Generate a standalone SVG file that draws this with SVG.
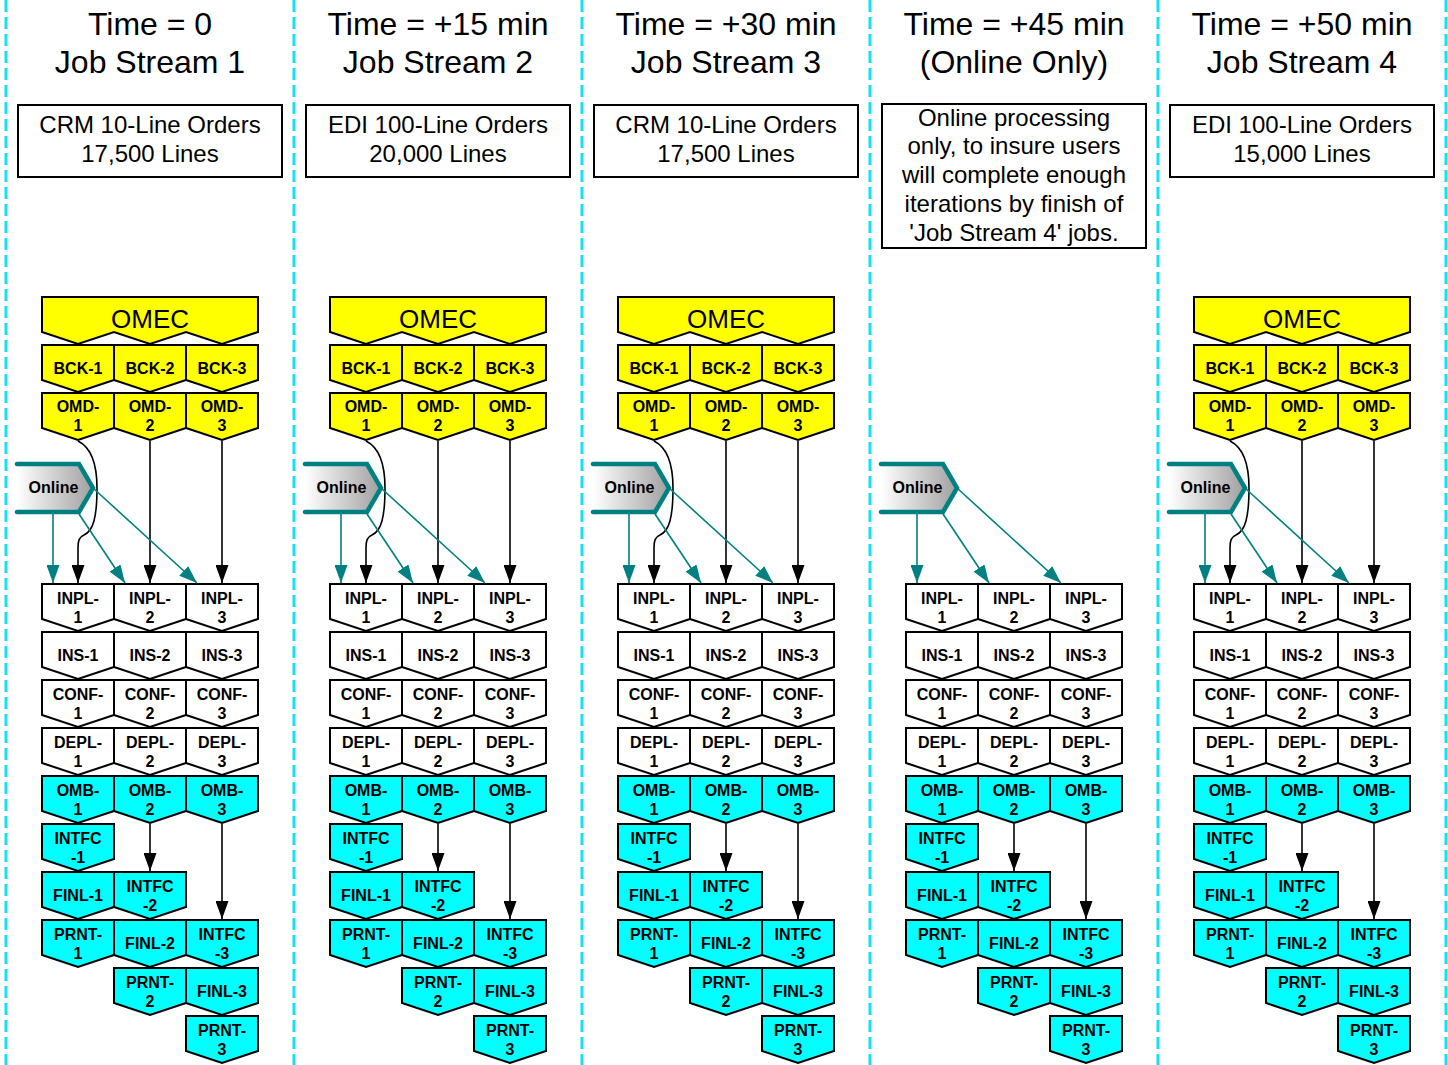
<svg xmlns="http://www.w3.org/2000/svg" width="1448" height="1065" viewBox="0 0 1448 1065">
<style>
.dash{stroke:#10E4EE;stroke-width:3;stroke-dasharray:12 5;fill:none}
.hd{font-family:"Liberation Sans",Arial,sans-serif;font-size:32px;text-anchor:middle;fill:#000}
.bx{fill:#fff;stroke:#000;stroke-width:2}
.bt{font-family:"Liberation Sans",Arial,sans-serif;font-size:24px;text-anchor:middle;fill:#000}
.y{fill:#FFFF00;stroke:#000;stroke-width:2}
.w{fill:#FFFFFF;stroke:#000;stroke-width:2}
.c{fill:#00FFFF;stroke:#000;stroke-width:2}
.lb{font-family:"Liberation Sans",Arial,sans-serif;font-weight:bold;font-size:16px;text-anchor:middle;fill:#000}
.om{font-family:"Liberation Sans",Arial,sans-serif;font-size:26px;text-anchor:middle;fill:#000}
.onl{fill:none;stroke:#008080;stroke-width:4.5;stroke-linecap:round;stroke-linejoin:miter}
.ka{stroke:#000;stroke-width:1.6;fill:none;marker-end:url(#ak)}
.ta{stroke:#008080;stroke-width:1.6;fill:none;marker-end:url(#at)}
</style>
<defs>
<path id="p" d="M0,0 H72 V35 L36,47 L0,35 Z"/>
<linearGradient id="gr" x1="0" y1="0" x2="1" y2="0">
<stop offset="0" stop-color="#FFFFFF"/>
<stop offset="1" stop-color="#A0A0A0"/>
</linearGradient>
<marker id="ak" markerUnits="userSpaceOnUse" viewBox="0 0 18 13" markerWidth="18" markerHeight="13" refX="18" refY="6.5" orient="auto"><path d="M0,0 L18,6.5 L0,13 Z" fill="#000"/></marker>
<marker id="at" markerUnits="userSpaceOnUse" viewBox="0 0 18 13" markerWidth="18" markerHeight="13" refX="18" refY="6.5" orient="auto"><path d="M0,0 L18,6.5 L0,13 Z" fill="#008080"/></marker>
</defs>
<rect width="1448" height="1065" fill="#fff"/>
<g id="dividers">
<line class="dash" x1="6" y1="0" x2="6" y2="1065"/>
<line class="dash" x1="294" y1="0" x2="294" y2="1065"/>
<line class="dash" x1="582" y1="0" x2="582" y2="1065"/>
<line class="dash" x1="870" y1="0" x2="870" y2="1065"/>
<line class="dash" x1="1158" y1="0" x2="1158" y2="1065"/>
<line class="dash" x1="1446" y1="0" x2="1446" y2="1065"/>
</g>
<g id="headers">
<g id="h1"><text class="hd" x="150" y="35">Time = 0</text><text class="hd" x="150" y="73">Job Stream 1</text></g>
<g id="h2"><text class="hd" x="438" y="35">Time = +15 min</text><text class="hd" x="438" y="73">Job Stream 2</text></g>
<g id="h3"><text class="hd" x="726" y="35">Time = +30 min</text><text class="hd" x="726" y="73">Job Stream 3</text></g>
<g id="h4"><text class="hd" x="1014" y="35">Time = +45 min</text><text class="hd" x="1014" y="73">(Online Only)</text></g>
<g id="h5"><text class="hd" x="1302" y="35">Time = +50 min</text><text class="hd" x="1302" y="73">Job Stream 4</text></g>
</g>
<g id="notes">
<g id="n1"><rect class="bx" x="18" y="105" width="264" height="72"/><text class="bt" x="150" y="133">CRM 10-Line Orders</text><text class="bt" x="150" y="162">17,500 Lines</text></g>
<g id="n2"><rect class="bx" x="306" y="105" width="264" height="72"/><text class="bt" x="438" y="133">EDI 100-Line Orders</text><text class="bt" x="438" y="162">20,000 Lines</text></g>
<g id="n3"><rect class="bx" x="594" y="105" width="264" height="72"/><text class="bt" x="726" y="133">CRM 10-Line Orders</text><text class="bt" x="726" y="162">17,500 Lines</text></g>
<g id="n4"><rect class="bx" x="882" y="104" width="264" height="144"/><text class="bt" x="1014" y="126">Online processing</text><text class="bt" x="1014" y="154">only, to insure users</text><text class="bt" x="1014" y="183">will complete enough</text><text class="bt" x="1014" y="212">iterations by finish of</text><text class="bt" x="1014" y="241">'Job Stream 4' jobs.</text></g>
<g id="n5"><rect class="bx" x="1170" y="105" width="264" height="72"/><text class="bt" x="1302" y="133">EDI 100-Line Orders</text><text class="bt" x="1302" y="162">15,000 Lines</text></g>
</g>

<g id="nodes">
<!-- Column 1 -->
<g id="col1">
<g id="s1-omec"><polygon class="y" points="42,297 258,297 258,332 222,344 186,332 150,344 114,332 78,344 42,332"/><text class="om" x="150" y="328">OMEC</text></g>
<g id="s1-bck1"><use href="#p" class="y" x="42" y="345"/><text class="lb" x="78" y="374">BCK-1</text></g>
<g id="s1-bck2"><use href="#p" class="y" x="114" y="345"/><text class="lb" x="150" y="374">BCK-2</text></g>
<g id="s1-bck3"><use href="#p" class="y" x="186" y="345"/><text class="lb" x="222" y="374">BCK-3</text></g>
<g id="s1-omd1"><use href="#p" class="y" x="42" y="393"/><text class="lb" x="78" y="412">OMD-</text><text class="lb" x="78" y="431">1</text></g>
<g id="s1-omd2"><use href="#p" class="y" x="114" y="393"/><text class="lb" x="150" y="412">OMD-</text><text class="lb" x="150" y="431">2</text></g>
<g id="s1-omd3"><use href="#p" class="y" x="186" y="393"/><text class="lb" x="222" y="412">OMD-</text><text class="lb" x="222" y="431">3</text></g>
<g id="s1-online"><polygon fill="url(#gr)" points="17,464 79,464 93,488 79,512 17,512"/><polyline class="onl" points="17,464 79,464 93,488 79,512 17,512"/><text class="lb" x="53.5" y="493">Online</text></g>
<g id="s1-inpl1"><use href="#p" class="w" x="42" y="584"/><text class="lb" x="78" y="604">INPL-</text><text class="lb" x="78" y="623">1</text></g>
<g id="s1-inpl2"><use href="#p" class="w" x="114" y="584"/><text class="lb" x="150" y="604">INPL-</text><text class="lb" x="150" y="623">2</text></g>
<g id="s1-inpl3"><use href="#p" class="w" x="186" y="584"/><text class="lb" x="222" y="604">INPL-</text><text class="lb" x="222" y="623">3</text></g>
<g id="s1-ins1"><use href="#p" class="w" x="42" y="632"/><text class="lb" x="78" y="661">INS-1</text></g>
<g id="s1-ins2"><use href="#p" class="w" x="114" y="632"/><text class="lb" x="150" y="661">INS-2</text></g>
<g id="s1-ins3"><use href="#p" class="w" x="186" y="632"/><text class="lb" x="222" y="661">INS-3</text></g>
<g id="s1-conf1"><use href="#p" class="w" x="42" y="680"/><text class="lb" x="78" y="700">CONF-</text><text class="lb" x="78" y="719">1</text></g>
<g id="s1-conf2"><use href="#p" class="w" x="114" y="680"/><text class="lb" x="150" y="700">CONF-</text><text class="lb" x="150" y="719">2</text></g>
<g id="s1-conf3"><use href="#p" class="w" x="186" y="680"/><text class="lb" x="222" y="700">CONF-</text><text class="lb" x="222" y="719">3</text></g>
<g id="s1-depl1"><use href="#p" class="w" x="42" y="728"/><text class="lb" x="78" y="748">DEPL-</text><text class="lb" x="78" y="767">1</text></g>
<g id="s1-depl2"><use href="#p" class="w" x="114" y="728"/><text class="lb" x="150" y="748">DEPL-</text><text class="lb" x="150" y="767">2</text></g>
<g id="s1-depl3"><use href="#p" class="w" x="186" y="728"/><text class="lb" x="222" y="748">DEPL-</text><text class="lb" x="222" y="767">3</text></g>
<g id="s1-omb1"><use href="#p" class="c" x="42" y="776"/><text class="lb" x="78" y="796">OMB-</text><text class="lb" x="78" y="815">1</text></g>
<g id="s1-omb2"><use href="#p" class="c" x="114" y="776"/><text class="lb" x="150" y="796">OMB-</text><text class="lb" x="150" y="815">2</text></g>
<g id="s1-omb3"><use href="#p" class="c" x="186" y="776"/><text class="lb" x="222" y="796">OMB-</text><text class="lb" x="222" y="815">3</text></g>
<g id="s1-intfc1"><use href="#p" class="c" x="42" y="824"/><text class="lb" x="78" y="844">INTFC</text><text class="lb" x="78" y="863">-1</text></g>
<g id="s1-finl1"><use href="#p" class="c" x="42" y="872"/><text class="lb" x="78" y="901">FINL-1</text></g>
<g id="s1-prnt1"><use href="#p" class="c" x="42" y="920"/><text class="lb" x="78" y="940">PRNT-</text><text class="lb" x="78" y="959">1</text></g>
<g id="s1-intfc2"><use href="#p" class="c" x="114" y="872"/><text class="lb" x="150" y="892">INTFC</text><text class="lb" x="150" y="911">-2</text></g>
<g id="s1-finl2"><use href="#p" class="c" x="114" y="920"/><text class="lb" x="150" y="949">FINL-2</text></g>
<g id="s1-prnt2"><use href="#p" class="c" x="114" y="968"/><text class="lb" x="150" y="988">PRNT-</text><text class="lb" x="150" y="1007">2</text></g>
<g id="s1-intfc3"><use href="#p" class="c" x="186" y="920"/><text class="lb" x="222" y="940">INTFC</text><text class="lb" x="222" y="959">-3</text></g>
<g id="s1-finl3"><use href="#p" class="c" x="186" y="968"/><text class="lb" x="222" y="997">FINL-3</text></g>
<g id="s1-prnt3"><use href="#p" class="c" x="186" y="1016"/><text class="lb" x="222" y="1036">PRNT-</text><text class="lb" x="222" y="1055">3</text></g>
</g>
<!-- Column 2 -->
<g id="col2" transform="translate(288,0)">
<g id="s2-omec"><polygon class="y" points="42,297 258,297 258,332 222,344 186,332 150,344 114,332 78,344 42,332"/><text class="om" x="150" y="328">OMEC</text></g>
<g id="s2-bck1"><use href="#p" class="y" x="42" y="345"/><text class="lb" x="78" y="374">BCK-1</text></g>
<g id="s2-bck2"><use href="#p" class="y" x="114" y="345"/><text class="lb" x="150" y="374">BCK-2</text></g>
<g id="s2-bck3"><use href="#p" class="y" x="186" y="345"/><text class="lb" x="222" y="374">BCK-3</text></g>
<g id="s2-omd1"><use href="#p" class="y" x="42" y="393"/><text class="lb" x="78" y="412">OMD-</text><text class="lb" x="78" y="431">1</text></g>
<g id="s2-omd2"><use href="#p" class="y" x="114" y="393"/><text class="lb" x="150" y="412">OMD-</text><text class="lb" x="150" y="431">2</text></g>
<g id="s2-omd3"><use href="#p" class="y" x="186" y="393"/><text class="lb" x="222" y="412">OMD-</text><text class="lb" x="222" y="431">3</text></g>
<g id="s2-online"><polygon fill="url(#gr)" points="17,464 79,464 93,488 79,512 17,512"/><polyline class="onl" points="17,464 79,464 93,488 79,512 17,512"/><text class="lb" x="53.5" y="493">Online</text></g>
<g id="s2-inpl1"><use href="#p" class="w" x="42" y="584"/><text class="lb" x="78" y="604">INPL-</text><text class="lb" x="78" y="623">1</text></g>
<g id="s2-inpl2"><use href="#p" class="w" x="114" y="584"/><text class="lb" x="150" y="604">INPL-</text><text class="lb" x="150" y="623">2</text></g>
<g id="s2-inpl3"><use href="#p" class="w" x="186" y="584"/><text class="lb" x="222" y="604">INPL-</text><text class="lb" x="222" y="623">3</text></g>
<g id="s2-ins1"><use href="#p" class="w" x="42" y="632"/><text class="lb" x="78" y="661">INS-1</text></g>
<g id="s2-ins2"><use href="#p" class="w" x="114" y="632"/><text class="lb" x="150" y="661">INS-2</text></g>
<g id="s2-ins3"><use href="#p" class="w" x="186" y="632"/><text class="lb" x="222" y="661">INS-3</text></g>
<g id="s2-conf1"><use href="#p" class="w" x="42" y="680"/><text class="lb" x="78" y="700">CONF-</text><text class="lb" x="78" y="719">1</text></g>
<g id="s2-conf2"><use href="#p" class="w" x="114" y="680"/><text class="lb" x="150" y="700">CONF-</text><text class="lb" x="150" y="719">2</text></g>
<g id="s2-conf3"><use href="#p" class="w" x="186" y="680"/><text class="lb" x="222" y="700">CONF-</text><text class="lb" x="222" y="719">3</text></g>
<g id="s2-depl1"><use href="#p" class="w" x="42" y="728"/><text class="lb" x="78" y="748">DEPL-</text><text class="lb" x="78" y="767">1</text></g>
<g id="s2-depl2"><use href="#p" class="w" x="114" y="728"/><text class="lb" x="150" y="748">DEPL-</text><text class="lb" x="150" y="767">2</text></g>
<g id="s2-depl3"><use href="#p" class="w" x="186" y="728"/><text class="lb" x="222" y="748">DEPL-</text><text class="lb" x="222" y="767">3</text></g>
<g id="s2-omb1"><use href="#p" class="c" x="42" y="776"/><text class="lb" x="78" y="796">OMB-</text><text class="lb" x="78" y="815">1</text></g>
<g id="s2-omb2"><use href="#p" class="c" x="114" y="776"/><text class="lb" x="150" y="796">OMB-</text><text class="lb" x="150" y="815">2</text></g>
<g id="s2-omb3"><use href="#p" class="c" x="186" y="776"/><text class="lb" x="222" y="796">OMB-</text><text class="lb" x="222" y="815">3</text></g>
<g id="s2-intfc1"><use href="#p" class="c" x="42" y="824"/><text class="lb" x="78" y="844">INTFC</text><text class="lb" x="78" y="863">-1</text></g>
<g id="s2-finl1"><use href="#p" class="c" x="42" y="872"/><text class="lb" x="78" y="901">FINL-1</text></g>
<g id="s2-prnt1"><use href="#p" class="c" x="42" y="920"/><text class="lb" x="78" y="940">PRNT-</text><text class="lb" x="78" y="959">1</text></g>
<g id="s2-intfc2"><use href="#p" class="c" x="114" y="872"/><text class="lb" x="150" y="892">INTFC</text><text class="lb" x="150" y="911">-2</text></g>
<g id="s2-finl2"><use href="#p" class="c" x="114" y="920"/><text class="lb" x="150" y="949">FINL-2</text></g>
<g id="s2-prnt2"><use href="#p" class="c" x="114" y="968"/><text class="lb" x="150" y="988">PRNT-</text><text class="lb" x="150" y="1007">2</text></g>
<g id="s2-intfc3"><use href="#p" class="c" x="186" y="920"/><text class="lb" x="222" y="940">INTFC</text><text class="lb" x="222" y="959">-3</text></g>
<g id="s2-finl3"><use href="#p" class="c" x="186" y="968"/><text class="lb" x="222" y="997">FINL-3</text></g>
<g id="s2-prnt3"><use href="#p" class="c" x="186" y="1016"/><text class="lb" x="222" y="1036">PRNT-</text><text class="lb" x="222" y="1055">3</text></g>
</g>
<!-- Column 3 -->
<g id="col3" transform="translate(576,0)">
<g id="s3-omec"><polygon class="y" points="42,297 258,297 258,332 222,344 186,332 150,344 114,332 78,344 42,332"/><text class="om" x="150" y="328">OMEC</text></g>
<g id="s3-bck1"><use href="#p" class="y" x="42" y="345"/><text class="lb" x="78" y="374">BCK-1</text></g>
<g id="s3-bck2"><use href="#p" class="y" x="114" y="345"/><text class="lb" x="150" y="374">BCK-2</text></g>
<g id="s3-bck3"><use href="#p" class="y" x="186" y="345"/><text class="lb" x="222" y="374">BCK-3</text></g>
<g id="s3-omd1"><use href="#p" class="y" x="42" y="393"/><text class="lb" x="78" y="412">OMD-</text><text class="lb" x="78" y="431">1</text></g>
<g id="s3-omd2"><use href="#p" class="y" x="114" y="393"/><text class="lb" x="150" y="412">OMD-</text><text class="lb" x="150" y="431">2</text></g>
<g id="s3-omd3"><use href="#p" class="y" x="186" y="393"/><text class="lb" x="222" y="412">OMD-</text><text class="lb" x="222" y="431">3</text></g>
<g id="s3-online"><polygon fill="url(#gr)" points="17,464 79,464 93,488 79,512 17,512"/><polyline class="onl" points="17,464 79,464 93,488 79,512 17,512"/><text class="lb" x="53.5" y="493">Online</text></g>
<g id="s3-inpl1"><use href="#p" class="w" x="42" y="584"/><text class="lb" x="78" y="604">INPL-</text><text class="lb" x="78" y="623">1</text></g>
<g id="s3-inpl2"><use href="#p" class="w" x="114" y="584"/><text class="lb" x="150" y="604">INPL-</text><text class="lb" x="150" y="623">2</text></g>
<g id="s3-inpl3"><use href="#p" class="w" x="186" y="584"/><text class="lb" x="222" y="604">INPL-</text><text class="lb" x="222" y="623">3</text></g>
<g id="s3-ins1"><use href="#p" class="w" x="42" y="632"/><text class="lb" x="78" y="661">INS-1</text></g>
<g id="s3-ins2"><use href="#p" class="w" x="114" y="632"/><text class="lb" x="150" y="661">INS-2</text></g>
<g id="s3-ins3"><use href="#p" class="w" x="186" y="632"/><text class="lb" x="222" y="661">INS-3</text></g>
<g id="s3-conf1"><use href="#p" class="w" x="42" y="680"/><text class="lb" x="78" y="700">CONF-</text><text class="lb" x="78" y="719">1</text></g>
<g id="s3-conf2"><use href="#p" class="w" x="114" y="680"/><text class="lb" x="150" y="700">CONF-</text><text class="lb" x="150" y="719">2</text></g>
<g id="s3-conf3"><use href="#p" class="w" x="186" y="680"/><text class="lb" x="222" y="700">CONF-</text><text class="lb" x="222" y="719">3</text></g>
<g id="s3-depl1"><use href="#p" class="w" x="42" y="728"/><text class="lb" x="78" y="748">DEPL-</text><text class="lb" x="78" y="767">1</text></g>
<g id="s3-depl2"><use href="#p" class="w" x="114" y="728"/><text class="lb" x="150" y="748">DEPL-</text><text class="lb" x="150" y="767">2</text></g>
<g id="s3-depl3"><use href="#p" class="w" x="186" y="728"/><text class="lb" x="222" y="748">DEPL-</text><text class="lb" x="222" y="767">3</text></g>
<g id="s3-omb1"><use href="#p" class="c" x="42" y="776"/><text class="lb" x="78" y="796">OMB-</text><text class="lb" x="78" y="815">1</text></g>
<g id="s3-omb2"><use href="#p" class="c" x="114" y="776"/><text class="lb" x="150" y="796">OMB-</text><text class="lb" x="150" y="815">2</text></g>
<g id="s3-omb3"><use href="#p" class="c" x="186" y="776"/><text class="lb" x="222" y="796">OMB-</text><text class="lb" x="222" y="815">3</text></g>
<g id="s3-intfc1"><use href="#p" class="c" x="42" y="824"/><text class="lb" x="78" y="844">INTFC</text><text class="lb" x="78" y="863">-1</text></g>
<g id="s3-finl1"><use href="#p" class="c" x="42" y="872"/><text class="lb" x="78" y="901">FINL-1</text></g>
<g id="s3-prnt1"><use href="#p" class="c" x="42" y="920"/><text class="lb" x="78" y="940">PRNT-</text><text class="lb" x="78" y="959">1</text></g>
<g id="s3-intfc2"><use href="#p" class="c" x="114" y="872"/><text class="lb" x="150" y="892">INTFC</text><text class="lb" x="150" y="911">-2</text></g>
<g id="s3-finl2"><use href="#p" class="c" x="114" y="920"/><text class="lb" x="150" y="949">FINL-2</text></g>
<g id="s3-prnt2"><use href="#p" class="c" x="114" y="968"/><text class="lb" x="150" y="988">PRNT-</text><text class="lb" x="150" y="1007">2</text></g>
<g id="s3-intfc3"><use href="#p" class="c" x="186" y="920"/><text class="lb" x="222" y="940">INTFC</text><text class="lb" x="222" y="959">-3</text></g>
<g id="s3-finl3"><use href="#p" class="c" x="186" y="968"/><text class="lb" x="222" y="997">FINL-3</text></g>
<g id="s3-prnt3"><use href="#p" class="c" x="186" y="1016"/><text class="lb" x="222" y="1036">PRNT-</text><text class="lb" x="222" y="1055">3</text></g>
</g>
<!-- Column 4 (online only) -->
<g id="col4" transform="translate(864,0)">
<g id="s4-online"><polygon fill="url(#gr)" points="17,464 79,464 93,488 79,512 17,512"/><polyline class="onl" points="17,464 79,464 93,488 79,512 17,512"/><text class="lb" x="53.5" y="493">Online</text></g>
<g id="s4-inpl1"><use href="#p" class="w" x="42" y="584"/><text class="lb" x="78" y="604">INPL-</text><text class="lb" x="78" y="623">1</text></g>
<g id="s4-inpl2"><use href="#p" class="w" x="114" y="584"/><text class="lb" x="150" y="604">INPL-</text><text class="lb" x="150" y="623">2</text></g>
<g id="s4-inpl3"><use href="#p" class="w" x="186" y="584"/><text class="lb" x="222" y="604">INPL-</text><text class="lb" x="222" y="623">3</text></g>
<g id="s4-ins1"><use href="#p" class="w" x="42" y="632"/><text class="lb" x="78" y="661">INS-1</text></g>
<g id="s4-ins2"><use href="#p" class="w" x="114" y="632"/><text class="lb" x="150" y="661">INS-2</text></g>
<g id="s4-ins3"><use href="#p" class="w" x="186" y="632"/><text class="lb" x="222" y="661">INS-3</text></g>
<g id="s4-conf1"><use href="#p" class="w" x="42" y="680"/><text class="lb" x="78" y="700">CONF-</text><text class="lb" x="78" y="719">1</text></g>
<g id="s4-conf2"><use href="#p" class="w" x="114" y="680"/><text class="lb" x="150" y="700">CONF-</text><text class="lb" x="150" y="719">2</text></g>
<g id="s4-conf3"><use href="#p" class="w" x="186" y="680"/><text class="lb" x="222" y="700">CONF-</text><text class="lb" x="222" y="719">3</text></g>
<g id="s4-depl1"><use href="#p" class="w" x="42" y="728"/><text class="lb" x="78" y="748">DEPL-</text><text class="lb" x="78" y="767">1</text></g>
<g id="s4-depl2"><use href="#p" class="w" x="114" y="728"/><text class="lb" x="150" y="748">DEPL-</text><text class="lb" x="150" y="767">2</text></g>
<g id="s4-depl3"><use href="#p" class="w" x="186" y="728"/><text class="lb" x="222" y="748">DEPL-</text><text class="lb" x="222" y="767">3</text></g>
<g id="s4-omb1"><use href="#p" class="c" x="42" y="776"/><text class="lb" x="78" y="796">OMB-</text><text class="lb" x="78" y="815">1</text></g>
<g id="s4-omb2"><use href="#p" class="c" x="114" y="776"/><text class="lb" x="150" y="796">OMB-</text><text class="lb" x="150" y="815">2</text></g>
<g id="s4-omb3"><use href="#p" class="c" x="186" y="776"/><text class="lb" x="222" y="796">OMB-</text><text class="lb" x="222" y="815">3</text></g>
<g id="s4-intfc1"><use href="#p" class="c" x="42" y="824"/><text class="lb" x="78" y="844">INTFC</text><text class="lb" x="78" y="863">-1</text></g>
<g id="s4-finl1"><use href="#p" class="c" x="42" y="872"/><text class="lb" x="78" y="901">FINL-1</text></g>
<g id="s4-prnt1"><use href="#p" class="c" x="42" y="920"/><text class="lb" x="78" y="940">PRNT-</text><text class="lb" x="78" y="959">1</text></g>
<g id="s4-intfc2"><use href="#p" class="c" x="114" y="872"/><text class="lb" x="150" y="892">INTFC</text><text class="lb" x="150" y="911">-2</text></g>
<g id="s4-finl2"><use href="#p" class="c" x="114" y="920"/><text class="lb" x="150" y="949">FINL-2</text></g>
<g id="s4-prnt2"><use href="#p" class="c" x="114" y="968"/><text class="lb" x="150" y="988">PRNT-</text><text class="lb" x="150" y="1007">2</text></g>
<g id="s4-intfc3"><use href="#p" class="c" x="186" y="920"/><text class="lb" x="222" y="940">INTFC</text><text class="lb" x="222" y="959">-3</text></g>
<g id="s4-finl3"><use href="#p" class="c" x="186" y="968"/><text class="lb" x="222" y="997">FINL-3</text></g>
<g id="s4-prnt3"><use href="#p" class="c" x="186" y="1016"/><text class="lb" x="222" y="1036">PRNT-</text><text class="lb" x="222" y="1055">3</text></g>
</g>
<!-- Column 5 -->
<g id="col5" transform="translate(1152,0)">
<g id="s5-omec"><polygon class="y" points="42,297 258,297 258,332 222,344 186,332 150,344 114,332 78,344 42,332"/><text class="om" x="150" y="328">OMEC</text></g>
<g id="s5-bck1"><use href="#p" class="y" x="42" y="345"/><text class="lb" x="78" y="374">BCK-1</text></g>
<g id="s5-bck2"><use href="#p" class="y" x="114" y="345"/><text class="lb" x="150" y="374">BCK-2</text></g>
<g id="s5-bck3"><use href="#p" class="y" x="186" y="345"/><text class="lb" x="222" y="374">BCK-3</text></g>
<g id="s5-omd1"><use href="#p" class="y" x="42" y="393"/><text class="lb" x="78" y="412">OMD-</text><text class="lb" x="78" y="431">1</text></g>
<g id="s5-omd2"><use href="#p" class="y" x="114" y="393"/><text class="lb" x="150" y="412">OMD-</text><text class="lb" x="150" y="431">2</text></g>
<g id="s5-omd3"><use href="#p" class="y" x="186" y="393"/><text class="lb" x="222" y="412">OMD-</text><text class="lb" x="222" y="431">3</text></g>
<g id="s5-online"><polygon fill="url(#gr)" points="17,464 79,464 93,488 79,512 17,512"/><polyline class="onl" points="17,464 79,464 93,488 79,512 17,512"/><text class="lb" x="53.5" y="493">Online</text></g>
<g id="s5-inpl1"><use href="#p" class="w" x="42" y="584"/><text class="lb" x="78" y="604">INPL-</text><text class="lb" x="78" y="623">1</text></g>
<g id="s5-inpl2"><use href="#p" class="w" x="114" y="584"/><text class="lb" x="150" y="604">INPL-</text><text class="lb" x="150" y="623">2</text></g>
<g id="s5-inpl3"><use href="#p" class="w" x="186" y="584"/><text class="lb" x="222" y="604">INPL-</text><text class="lb" x="222" y="623">3</text></g>
<g id="s5-ins1"><use href="#p" class="w" x="42" y="632"/><text class="lb" x="78" y="661">INS-1</text></g>
<g id="s5-ins2"><use href="#p" class="w" x="114" y="632"/><text class="lb" x="150" y="661">INS-2</text></g>
<g id="s5-ins3"><use href="#p" class="w" x="186" y="632"/><text class="lb" x="222" y="661">INS-3</text></g>
<g id="s5-conf1"><use href="#p" class="w" x="42" y="680"/><text class="lb" x="78" y="700">CONF-</text><text class="lb" x="78" y="719">1</text></g>
<g id="s5-conf2"><use href="#p" class="w" x="114" y="680"/><text class="lb" x="150" y="700">CONF-</text><text class="lb" x="150" y="719">2</text></g>
<g id="s5-conf3"><use href="#p" class="w" x="186" y="680"/><text class="lb" x="222" y="700">CONF-</text><text class="lb" x="222" y="719">3</text></g>
<g id="s5-depl1"><use href="#p" class="w" x="42" y="728"/><text class="lb" x="78" y="748">DEPL-</text><text class="lb" x="78" y="767">1</text></g>
<g id="s5-depl2"><use href="#p" class="w" x="114" y="728"/><text class="lb" x="150" y="748">DEPL-</text><text class="lb" x="150" y="767">2</text></g>
<g id="s5-depl3"><use href="#p" class="w" x="186" y="728"/><text class="lb" x="222" y="748">DEPL-</text><text class="lb" x="222" y="767">3</text></g>
<g id="s5-omb1"><use href="#p" class="c" x="42" y="776"/><text class="lb" x="78" y="796">OMB-</text><text class="lb" x="78" y="815">1</text></g>
<g id="s5-omb2"><use href="#p" class="c" x="114" y="776"/><text class="lb" x="150" y="796">OMB-</text><text class="lb" x="150" y="815">2</text></g>
<g id="s5-omb3"><use href="#p" class="c" x="186" y="776"/><text class="lb" x="222" y="796">OMB-</text><text class="lb" x="222" y="815">3</text></g>
<g id="s5-intfc1"><use href="#p" class="c" x="42" y="824"/><text class="lb" x="78" y="844">INTFC</text><text class="lb" x="78" y="863">-1</text></g>
<g id="s5-finl1"><use href="#p" class="c" x="42" y="872"/><text class="lb" x="78" y="901">FINL-1</text></g>
<g id="s5-prnt1"><use href="#p" class="c" x="42" y="920"/><text class="lb" x="78" y="940">PRNT-</text><text class="lb" x="78" y="959">1</text></g>
<g id="s5-intfc2"><use href="#p" class="c" x="114" y="872"/><text class="lb" x="150" y="892">INTFC</text><text class="lb" x="150" y="911">-2</text></g>
<g id="s5-finl2"><use href="#p" class="c" x="114" y="920"/><text class="lb" x="150" y="949">FINL-2</text></g>
<g id="s5-prnt2"><use href="#p" class="c" x="114" y="968"/><text class="lb" x="150" y="988">PRNT-</text><text class="lb" x="150" y="1007">2</text></g>
<g id="s5-intfc3"><use href="#p" class="c" x="186" y="920"/><text class="lb" x="222" y="940">INTFC</text><text class="lb" x="222" y="959">-3</text></g>
<g id="s5-finl3"><use href="#p" class="c" x="186" y="968"/><text class="lb" x="222" y="997">FINL-3</text></g>
<g id="s5-prnt3"><use href="#p" class="c" x="186" y="1016"/><text class="lb" x="222" y="1036">PRNT-</text><text class="lb" x="222" y="1055">3</text></g>
</g>
</g>

<g id="connectors">
<g id="e1">
<path class="ka" d="M78,441 C92,448 97,465 97,488 C97,518 93,531 84,535 C79,537 78,541 78,548 L78,583"/>
<path class="ka" d="M150,441 V583"/><path class="ka" d="M222,441 V583"/>
<path class="ta" d="M53,514 V583"/><path class="ta" d="M79,514 L125,583"/><path class="ta" d="M93,488 L197,583"/>
<path class="ka" d="M150,824 V871"/><path class="ka" d="M222,824 V919"/>
</g>
<g id="e2" transform="translate(288,0)">
<path class="ka" d="M78,441 C92,448 97,465 97,488 C97,518 93,531 84,535 C79,537 78,541 78,548 L78,583"/>
<path class="ka" d="M150,441 V583"/><path class="ka" d="M222,441 V583"/>
<path class="ta" d="M53,514 V583"/><path class="ta" d="M79,514 L125,583"/><path class="ta" d="M93,488 L197,583"/>
<path class="ka" d="M150,824 V871"/><path class="ka" d="M222,824 V919"/>
</g>
<g id="e3" transform="translate(576,0)">
<path class="ka" d="M78,441 C92,448 97,465 97,488 C97,518 93,531 84,535 C79,537 78,541 78,548 L78,583"/>
<path class="ka" d="M150,441 V583"/><path class="ka" d="M222,441 V583"/>
<path class="ta" d="M53,514 V583"/><path class="ta" d="M79,514 L125,583"/><path class="ta" d="M93,488 L197,583"/>
<path class="ka" d="M150,824 V871"/><path class="ka" d="M222,824 V919"/>
</g>
<g id="e4" transform="translate(864,0)">
<path class="ta" d="M53,514 V583"/><path class="ta" d="M79,514 L125,583"/><path class="ta" d="M93,488 L197,583"/>
<path class="ka" d="M150,824 V871"/><path class="ka" d="M222,824 V919"/>
</g>
<g id="e5" transform="translate(1152,0)">
<path class="ka" d="M78,441 C92,448 97,465 97,488 C97,518 93,531 84,535 C79,537 78,541 78,548 L78,583"/>
<path class="ka" d="M150,441 V583"/><path class="ka" d="M222,441 V583"/>
<path class="ta" d="M53,514 V583"/><path class="ta" d="M79,514 L125,583"/><path class="ta" d="M93,488 L197,583"/>
<path class="ka" d="M150,824 V871"/><path class="ka" d="M222,824 V919"/>
</g>
</g>
</svg>
